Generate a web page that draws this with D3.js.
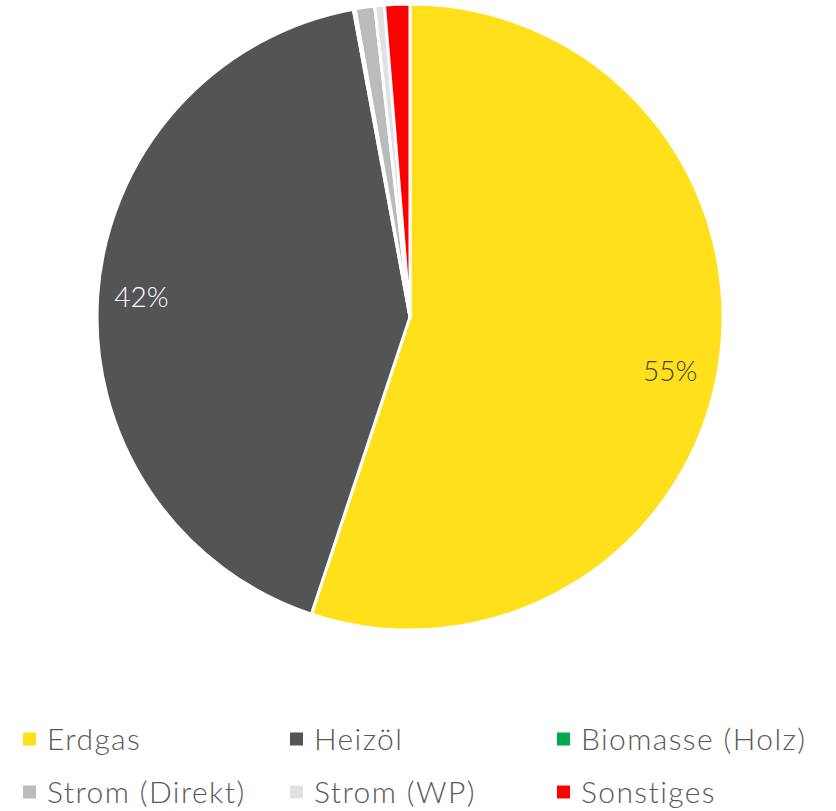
<!DOCTYPE html>
<html>
<head>
<meta charset="utf-8">
<script src="https://cdn.jsdelivr.net/npm/d3@7"></script>
<style>
  body { margin: 0; background: #fff; }
  svg text { font-family: Lato, "Open Sans", sans-serif; font-weight: 300; }
</style>
</head>
<body>
<div id="chart"></div>
<script>
// Data
var categories = ["Erdgas", "Heizöl", "Biomasse (Holz)", "Strom (Direkt)", "Strom (WP)", "Sonstiges"];
var shares = [55.1, 42.0, 0.1, 1.0, 0.5, 1.3];
var labels = ["55%", "42%", "", "", "", ""];
var colors = ["#FFE01B", "#535456", "#00A94F", "#BABBBD", "#E0E1E3", "#FF0000"];
var labelColors = ["#404040", "#ffffff", "#404040", "#404040", "#404040", "#404040"];

// Setup
var width = 836, height = 811;
var cx = 410, cy = 317, radius = 313;

var data = categories.map(function(c, i) {
    return {name: c, value: shares[i], label: labels[i], color: colors[i], labelColor: labelColors[i]};
});

var svg = d3.select("#chart").append("svg")
    .attr("width", width)
    .attr("height", height);

var pie = d3.pie()
    .sort(null)
    .value(function(d) { return d.value; });

var arc = d3.arc()
    .innerRadius(0)
    .outerRadius(radius);

var labelArc = d3.arc()
    .innerRadius(radius * 0.86)
    .outerRadius(radius * 0.86);

var g = svg.append("g")
    .attr("transform", "translate(" + cx + "," + cy + ")");

var arcs = pie(data);

// slices
g.selectAll("path.slice")
    .data(arcs).enter().append("path")
    .attr("class", "slice")
    .attr("d", arc)
    .attr("fill", function(d) { return d.data.color; })
    .attr("stroke", "#ffffff")
    .attr("stroke-width", 3)
    .attr("stroke-linejoin", "round");

// percentage labels
g.selectAll("text.pct")
    .data(arcs.filter(function(d) { return d.data.label !== ""; }))
    .enter().append("text")
    .attr("class", "pct")
    .attr("transform", function(d) {
        var c = labelArc.centroid(d);
        return "translate(" + c[0] + "," + c[1] + ")";
    })
    .attr("text-anchor", "middle")
    .attr("dy", function(d, i) { return i === 0 ? "0.75em" : "0.3em"; })
    .attr("dx", function(d, i) { return i === 0 ? "-0.2em" : "0"; })
    .style("font-size", "28px")
    .attr("fill", function(d) { return d.data.labelColor; })
    .text(function(d) { return d.data.label; });

// legend
var legendX = d3.scalePoint()
    .domain([0, 1, 2])
    .range([23, 557]);
var legendY = d3.scalePoint()
    .domain([0, 1])
    .range([739, 792]);

var legend = svg.selectAll("g.legend")
    .data(data).enter().append("g")
    .attr("class", "legend")
    .attr("transform", function(d, i) {
        return "translate(" + legendX(i % 3) + "," + legendY(Math.floor(i / 3)) + ")";
    });

legend.append("rect")
    .attr("x", 0)
    .attr("y", -6.5)
    .attr("width", 13)
    .attr("height", 13)
    .attr("fill", function(d) { return d.color; });

legend.append("text")
    .attr("x", 24)
    .attr("dy", "0.36em")
    .style("font-size", "30px")
    .style("letter-spacing", "1.4px")
    .attr("fill", "#595959")
    .text(function(d) { return d.name; });
</script>
</body>
</html>
